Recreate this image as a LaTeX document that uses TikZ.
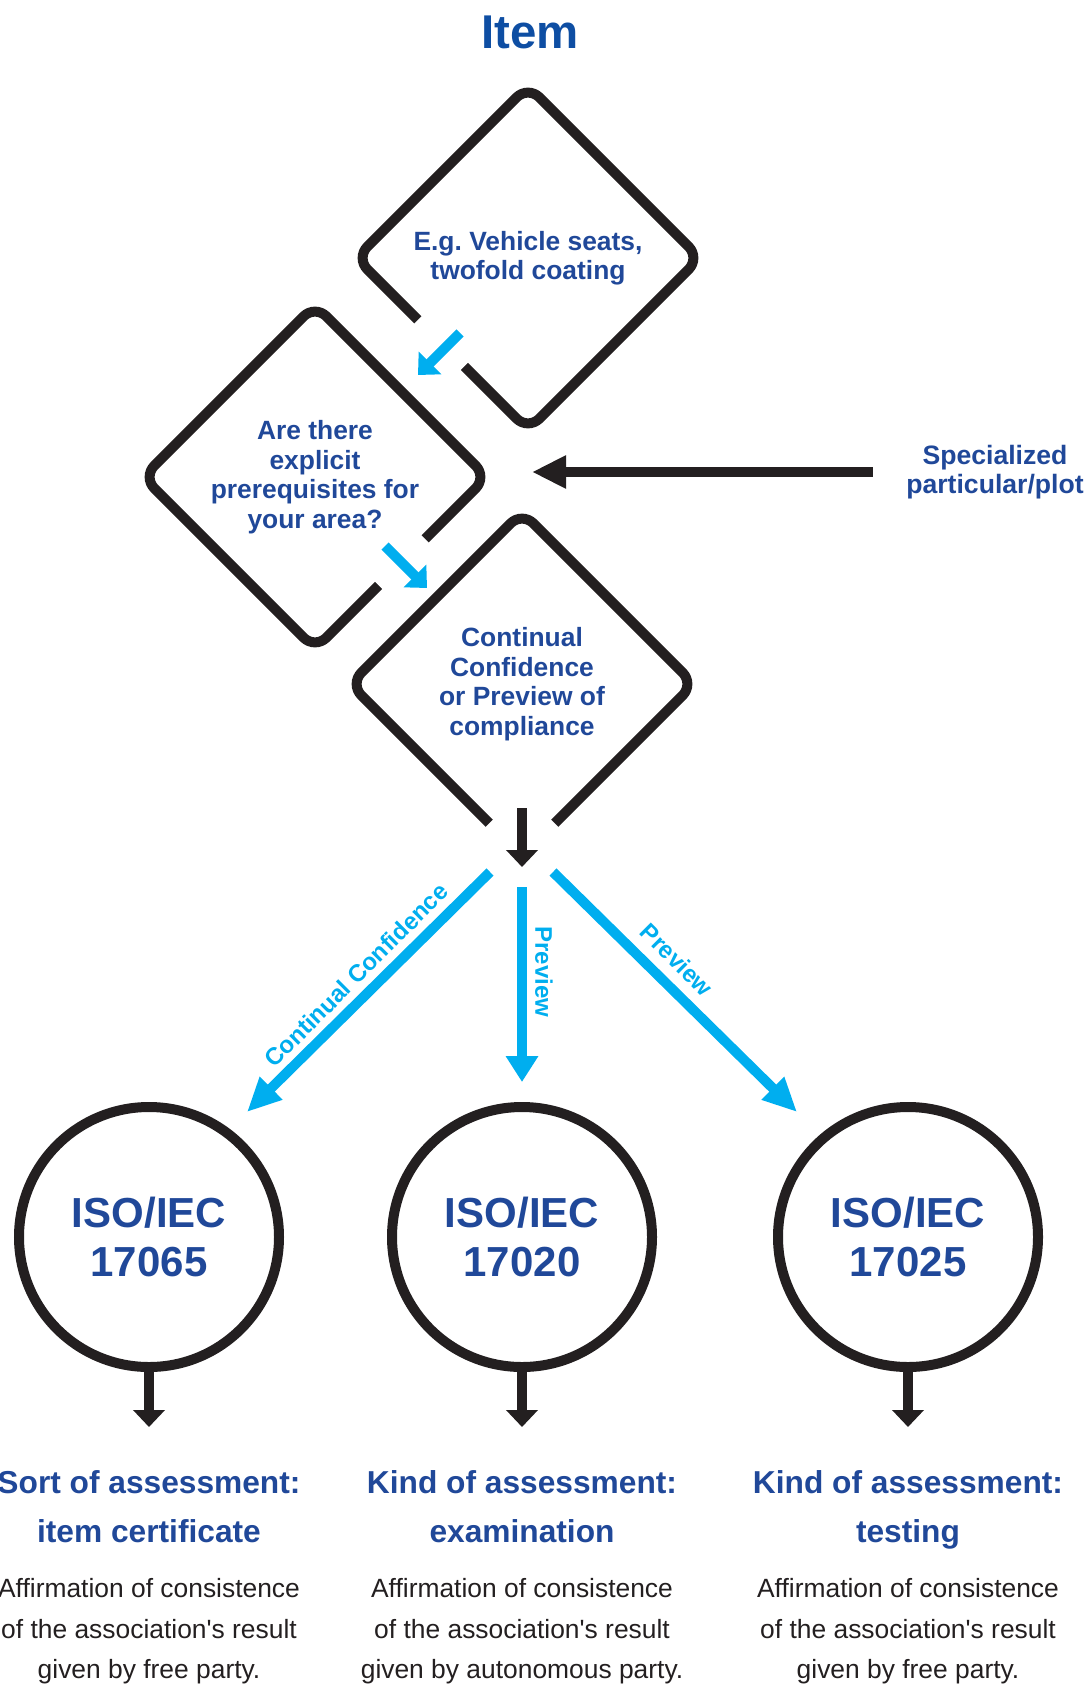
\documentclass[tikz,border=0pt]{standalone}
\usepackage{fontspec}
\setmainfont{Liberation Sans}
\usepackage{tikz}
\usetikzlibrary{calc}
\usetikzlibrary{arrows.meta}
\usetikzlibrary{shapes.geometric}
\usepackage{xcolor}
\definecolor{isoblue}{RGB}{32,72,153}
\definecolor{itemblue}{RGB}{14,78,163}
\definecolor{routecyan}{RGB}{0,174,239}
\definecolor{inkblack}{RGB}{35,31,32}
\tikzstyle{decision}=[draw=inkblack,line width=5pt,diamond,rounded corners=8pt,minimum size=172pt,inner sep=0pt,outer sep=0pt,align=center,text=isoblue,font=\bfseries\fontsize{13.2}{14.75}\selectfont]
\tikzstyle{standard}=[draw=inkblack,line width=5pt,circle,minimum size=130pt,inner sep=0pt,align=center,text=isoblue,font=\bfseries\fontsize{21}{24.5}\selectfont]
\tikzstyle{kindtitle}=[anchor=north,inner sep=0pt,align=center,text=isoblue,font=\bfseries\fontsize{15.85}{24.5}\selectfont]
\tikzstyle{kindbody}=[anchor=north,inner sep=0pt,align=center,text=inkblack,font=\fontsize{13.2}{20.25}\selectfont]
\tikzstyle{flow}=[draw=inkblack,line width=5pt,-{Triangle[length=8.5pt,width=15.5pt]}]
\tikzstyle{route}=[draw=routecyan,line width=5pt,-{Triangle[length=13pt,width=15.5pt]}]
\tikzstyle{routelabel}=[text=routecyan,inner sep=0pt,font=\bfseries\fontsize{12}{14}\selectfont]
\tikzstyle{gap}=[draw=white,line width=6.5pt]

\begin{document}
\begin{tikzpicture}[x=0.5pt,y=-0.5pt]
    \useasboundingbox (0,0) rectangle (1087,1684);

    \node[text=itemblue,font=\bfseries\fontsize{23.7}{28}\selectfont] (item) at (530,32) {Item};

    \node[decision] (d1) at (528,258) {E.g.\ Vehicle seats,\\twofold coating};
    \node[decision] (d2) at (315,477) {Are there\\explicit\\prerequisites for\\your area?};
    \node[decision] (d3) at (522,684) {Continual\\Confidence\\or Preview of\\compliance};

    % openings in the frames
    \draw[gap] ($(d1.west)!0.36!(d1.south)$) -- ($(d1.west)!0.63!(d1.south)$);
    \draw[gap] ($(d2.east)!0.36!(d2.south)$) -- ($(d2.east)!0.63!(d2.south)$);
    \draw[gap,line width=10pt] ($(d3.west)!0.81!(d3.south)$) -- (d3.south) -- ($(d3.east)!0.81!(d3.south)$);

    \draw[route,-{Triangle[length=8.5pt,width=15.5pt]}] ($(d1)+(-68,75)$) -- ($(d1)+(-110,117)$);
    \draw[route,-{Triangle[length=8.5pt,width=15.5pt]}] ($(d2)+(70,69)$) -- ($(d2)+(112,111)$);

    \node[inner sep=0pt,align=center,text=isoblue,font=\bfseries\fontsize{13.3}{14.5}\selectfont] (spec) at (995,472) {Specialized\\particular/plot};
    \coordinate (middle) at (532,472);
    \draw[flow,-{Triangle[length=17pt,width=15.5pt]}] (spec.west) ++(-33,0) -- (middle);

    \coordinate (hub) at (522,867);
    \draw[flow] ($(d3.south)+(0,-48)$) -- (hub);

    \coordinate (tipL) at (247,1112);
    \coordinate (tipM) at (522,1082);
    \coordinate (tipR) at (797,1112);
    \draw[route,-{Triangle[length=17pt,width=15pt]}] ($(hub)+(-32,5)$) -- (tipL);
    \draw[route] ($(hub)+(0,20)$) -- (tipM);
    \draw[route,-{Triangle[length=17pt,width=15pt]}] ($(hub)+(31,5)$) -- (tipR);

    \node[routelabel,rotate=45] (lblcc) at (356,975) {Continual Confidence};
    \node[routelabel,rotate=-90] (lblpm) at (544,972) {Preview};
    \node[routelabel,rotate=-45] (lblpr) at (677,960) {Preview};

    \node[standard] (iso1) at (149,1237) {ISO/IEC\\17065};
    \node[standard] (iso2) at (522,1237) {ISO/IEC\\17020};
    \node[standard] (iso3) at (908,1237) {ISO/IEC\\17025};

    \draw[flow] (iso1.south) -- ++(0,55);
    \draw[flow] (iso2.south) -- ++(0,55);
    \draw[flow] (iso3.south) -- ++(0,55);

    \node[kindtitle] (kind1) at (149,1470) {Sort of assessment:\\item certificate};
    \node[kindtitle] (kind2) at (522,1470) {Kind of assessment:\\examination};
    \node[kindtitle] (kind3) at (908,1470) {Kind of assessment:\\testing};

    \node[kindbody] (note1) at (149,1578) {Affirmation of consistence\\of the association\textquotesingle s result\\given by free party.};
    \node[kindbody] (note2) at (522,1578) {Affirmation of consistence\\of the association\textquotesingle s result\\given by autonomous party.};
    \node[kindbody] (note3) at (908,1578) {Affirmation of consistence\\of the association\textquotesingle s result\\given by free party.};

\end{tikzpicture}
\end{document}
